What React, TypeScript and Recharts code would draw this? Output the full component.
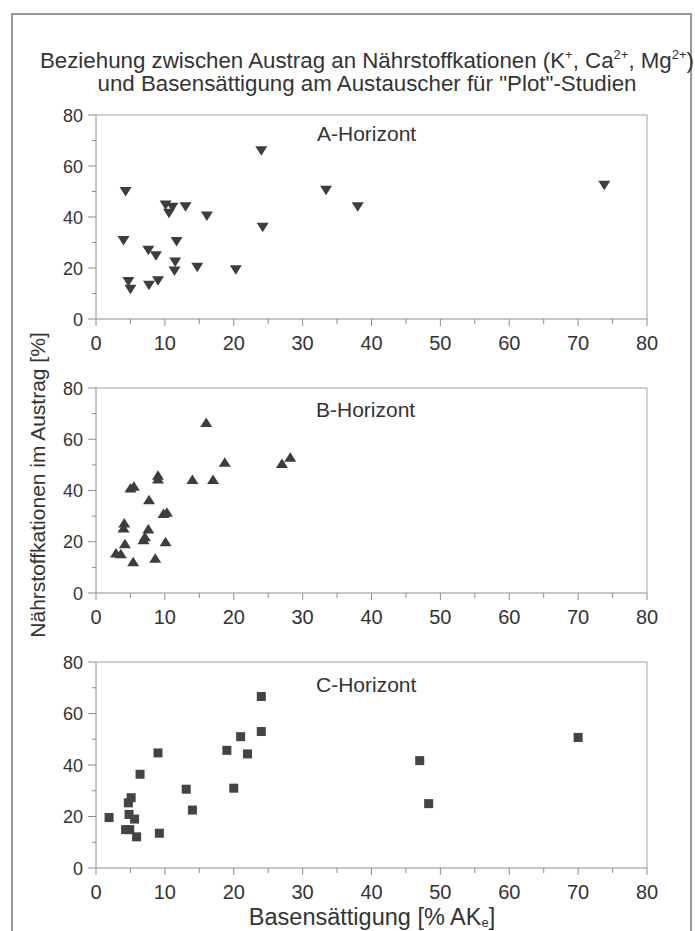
import React from "react";
import { ScatterChart, Scatter, XAxis, YAxis, ReferenceLine } from "recharts";

// ---- tick values / labels ----
const X_TICKS = [0, 5, 10, 15, 20, 25, 30, 35, 40, 45, 50, 55, 60, 65, 70, 75, 80];
const Y_TICKS = [0, 10, 20, 30, 40, 50, 60, 70, 80];
const HORIZON_LABELS = ["A-Horizont", "B-Horizont", "C-Horizont"];
const TITLE_LINE_1 = "Beziehung zwischen Austrag an Nährstoffkationen (K";
const TITLE_LINE_2 = "und Basensättigung am Austauscher für \"Plot\"-Studien";
const Y_LABEL = "Nährstoffkationen im Austrag [%]";
const X_LABEL = "Basensättigung [% AK";

// ---- A-Horizont (Basensättigung %, Nährstoffkationen im Austrag %) ----
const aBase = [4.3, 24, 33.4, 38, 10.1, 11.1, 10.6, 13, 16.1, 24.2, 4, 11.7, 7.6, 8.7, 11.5, 11.4, 14.7, 20.3, 4.7, 5, 7.7, 9, 73.8];
const aLoss = [50, 66, 50.5, 44, 44.7, 43.8, 41.5, 44, 40.4, 36, 30.8, 30.4, 27, 24.8, 22.4, 18.8, 20.3, 19.3, 14.7, 11.7, 13.2, 15, 52.5];

// ---- B-Horizont ----
const bBase = [16, 18.7, 27, 28.2, 14, 17, 9, 9, 5, 5.5, 7.7, 9.8, 10.3, 4.1, 4, 7.6, 7.1, 6.9, 4.2, 10.1, 2.9, 3.6, 5.4, 8.6];
const bLoss = [66.5, 51, 50.5, 53, 44.3, 44.3, 46, 44.5, 41, 41.7, 36.4, 31, 31.5, 27.3, 25.4, 25, 22, 20.8, 19.2, 20, 15.6, 15.3, 12.2, 13.6];

// ---- C-Horizont ----
const cBase = [24, 24, 21, 19, 22, 20, 9, 6.4, 13.1, 14, 5.1, 4.7, 1.9, 4.8, 5.6, 4.3, 4.9, 5.9, 9.2, 47, 48.3, 70];
const cLoss = [66.6, 53, 51, 45.7, 44.3, 31, 44.7, 36.4, 30.6, 22.5, 27.3, 25.3, 19.6, 20.8, 19, 14.9, 14.9, 12.1, 13.5, 41.7, 25, 50.7];

const toPoints = (xs: number[], ys: number[]) => xs.map((x, i) => ({ x, y: ys[i] }));
const dataA = toPoints(aBase, aLoss);
const dataB = toPoints(bBase, bLoss);
const dataC = toPoints(cBase, cLoss);

const AXIS = "#8e8e8e";
const TEXT = "#333333";
const MARK = "#3d3d3d";
const FONT = "'Liberation Sans', Arial, Helvetica, sans-serif";

function XTick(props: any) {
  const { x, y, payload } = props;
  const v = payload.value;
  const major = v % 10 === 0;
  return (
    <g>
      <line x1={x} x2={x} y1={y} y2={y + (major ? 7 : 5)} stroke={AXIS} strokeWidth={1} />
      {major && (
        <text x={x} y={y + 31} textAnchor="middle" fontSize={20} fontFamily={FONT} fill={TEXT}>
          {v}
        </text>
      )}
    </g>
  );
}

function YTick(props: any) {
  const { x, y, payload } = props;
  const v = payload.value;
  const major = v % 20 === 0;
  return (
    <g>
      <line x1={x - (major ? 8 : 4)} x2={x} y1={y} y2={y} stroke={AXIS} strokeWidth={1} />
      {major && (
        <text x={x - 13} y={y + 6.5} textAnchor="end" fontSize={18} fontFamily={FONT} fill={TEXT}>
          {v}
        </text>
      )}
    </g>
  );
}

const TriDown = (p: any) => {
  const { cx, cy } = p;
  return <polygon points={`${cx - 6},${cy - 4.5} ${cx + 6},${cy - 4.5} ${cx},${cy + 5}`} fill={MARK} />;
};
const TriUp = (p: any) => {
  const { cx, cy } = p;
  return <polygon points={`${cx - 6},${cy + 4.5} ${cx + 6},${cy + 4.5} ${cx},${cy - 5}`} fill={MARK} />;
};
const Square = (p: any) => {
  const { cx, cy } = p;
  return <rect x={cx - 4.5} y={cy - 4.5} width={9} height={9} fill="#444444" />;
};

function Panel({ top, height, data, shape }: any) {
  return (
    <div style={{ position: "absolute", left: 0, top, width: 695, height }}>
      <ScatterChart width={695} height={height} margin={{ top: 20, right: 48, bottom: 0, left: 36 }}>
        <XAxis
          type="number"
          dataKey="x"
          domain={[0, 80]}
          ticks={X_TICKS}
          interval={0}
          tick={(p: any) => <XTick {...p} />}
          tickLine={false}
          tickSize={0}
          tickMargin={0}
          axisLine={{ stroke: AXIS }}
          height={40}
        />
        <YAxis
          type="number"
          dataKey="y"
          domain={[0, 80]}
          ticks={Y_TICKS}
          interval={0}
          tick={(p: any) => <YTick {...p} />}
          tickLine={false}
          tickSize={0}
          tickMargin={0}
          axisLine={{ stroke: AXIS }}
          width={60}
        />
        <ReferenceLine y={80} stroke="#a0a0a0" />
        <ReferenceLine x={80} stroke="#a0a0a0" />
        <Scatter data={data} shape={shape} isAnimationActive={false} />
      </ScatterChart>
    </div>
  );
}

export default function App() {
  return (
    <div style={{ position: "absolute", left: 0, top: 0, width: 695, height: 931, background: "#fff", overflow: "hidden" }}>
      <Panel top={95} height={264} data={dataA} shape={TriDown} />
      <Panel top={368} height={265} data={dataB} shape={TriUp} />
      <Panel top={642} height={266} data={dataC} shape={Square} />
      <svg width={695} height={931} style={{ position: "absolute", left: 0, top: 0, pointerEvents: "none" }}>
        <rect x={12} y={14} width={679} height={940} fill="none" stroke="#9a9a9a" strokeWidth={2} />
        <text x={367} y={68} textAnchor="middle" fontSize={22.3} fontFamily={FONT} fill={TEXT}>
          {TITLE_LINE_1}
          <tspan fontSize={13} dy={-9}>+</tspan>
          <tspan dy={9}>, Ca</tspan>
          <tspan fontSize={13} dy={-9}>2+</tspan>
          <tspan dy={9}>, Mg</tspan>
          <tspan fontSize={13} dy={-9}>2+</tspan>
          <tspan dy={9}>)</tspan>
        </text>
        <text x={367} y={91} textAnchor="middle" fontSize={22.3} fontFamily={FONT} fill={TEXT}>
          {TITLE_LINE_2}
        </text>
        <text x={317} y={141} fontSize={21} fontFamily={FONT} fill={TEXT}>{HORIZON_LABELS[0]}</text>
        <text x={316} y={417} fontSize={21} fontFamily={FONT} fill={TEXT}>{HORIZON_LABELS[1]}</text>
        <text x={316} y={692} fontSize={21} fontFamily={FONT} fill={TEXT}>{HORIZON_LABELS[2]}</text>
        <text
          x={45}
          y={485}
          transform="rotate(-90 45 485)"
          textAnchor="middle"
          fontSize={21}
          fontFamily={FONT}
          fill={TEXT}
        >
          {Y_LABEL}
        </text>
        <text x={372} y={925} textAnchor="middle" fontSize={23.5} fontFamily={FONT} fill={TEXT}>
          {X_LABEL}
          <tspan fontSize={13} dy={2}>e</tspan>
          <tspan dy={-2}>]</tspan>
        </text>
      </svg>
    </div>
  );
}
